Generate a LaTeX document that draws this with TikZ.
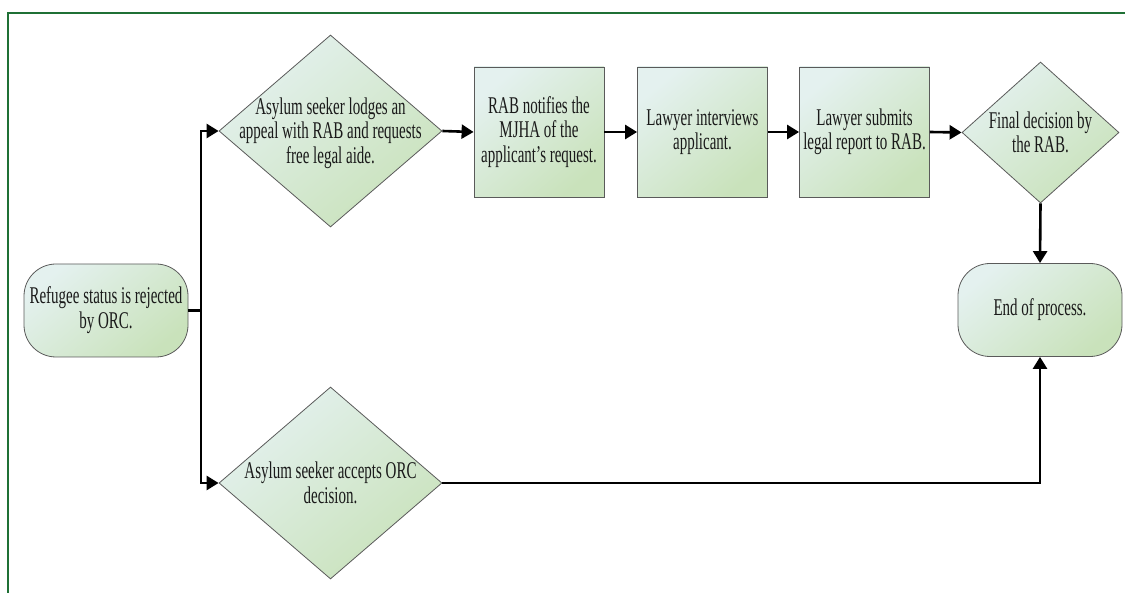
\documentclass[tikz,border=0pt]{standalone}
\usepackage{fontspec}
\setmainfont[FakeStretch=0.625]{Liberation Serif}
\usetikzlibrary{shapes.geometric,arrows.meta}
\definecolor{gA}{HTML}{E4F1EF}
\definecolor{gB}{HTML}{C9E2BB}
\definecolor{frameg}{HTML}{1F7035}
\definecolor{edgeg}{HTML}{5A5A5A}
\definecolor{txtc}{HTML}{1A1A1A}
\begin{document}
\begin{tikzpicture}[x=1pt,y=-1pt,
  fillsh/.style={draw=edgeg, line width=0.8pt, top color=gA, bottom color=gB, shading angle=40},
  diam/.style={fillsh, diamond, minimum width=223pt, minimum height=192pt, inner sep=0pt},
  diamsm/.style={fillsh, diamond, minimum width=157pt, minimum height=141pt, inner sep=0pt},
  boxn/.style={fillsh, rectangle, minimum width=130pt, minimum height=130pt, inner sep=2pt, align=center, text=txtc, font=\fontsize{24}{24.5}\selectfont},
  term/.style={fillsh, rectangle, rounded corners=32pt, minimum width=164pt, minimum height=93pt, inner sep=2pt, align=center, text=txtc, font=\fontsize{24}{25}\selectfont},
  txt/.style={align=center, inner sep=0pt, text=txtc, font=\fontsize{24}{24.5}\selectfont},
  conn/.style={line width=2.6pt, draw=black, -{Triangle[length=12pt,width=14pt]}},
  plain/.style={line width=2.6pt, draw=black}
]
\useasboundingbox (0,0) rectangle (1125,593);
\draw[frameg, line width=2pt] (8.3,593) -- (8.3,13) -- (1125,13);

\node[term] (start) at (106,310.5) {Refugee status is rejected\\by ORC.};
\node[term] (end) at (1040,310) {End of process.};

\node[diam] (d1) at (330.5,131) {};
\node[txt] (t1) at (330.5,133) {Asylum seeker lodges an\\appeal with RAB and requests\\free legal aide.};

\node[boxn] (b2) at (539,132) {RAB notifies the\\MJHA of the\\applicant’s request.};
\node[boxn] (b3) at (702.5,132) {Lawyer interviews\\applicant.};
\node[boxn] (b4) at (864.5,132) {Lawyer submits\\legal report to RAB.};

\node[diamsm] (d2) at (1040.5,132.5) {};
\node[txt] (t2) at (1040.5,132.5) {Final decision by\\the RAB.};

\node[diam] (d3) at (330.5,483) {};
\node[txt] (t3) at (330.5,483) {Asylum seeker accepts ORC\\decision.};

\coordinate (br) at (201,310.5);
\draw[plain] (start.east) -- (br);
\draw[conn] (br) |- (d1.west);
\draw[conn] (br) |- (d3.west);
\draw[conn] (d1.east) -- (b2.west);
\draw[conn] (b2.east) -- (b3.west);
\draw[conn] (b3.east) -- (b4.west);
\draw[conn] (b4.east) -- (d2.west);
\draw[conn] (d2.south) -- (end.north);
\draw[conn] (d3.east) -| (end.south);
\end{tikzpicture}
\end{document}
